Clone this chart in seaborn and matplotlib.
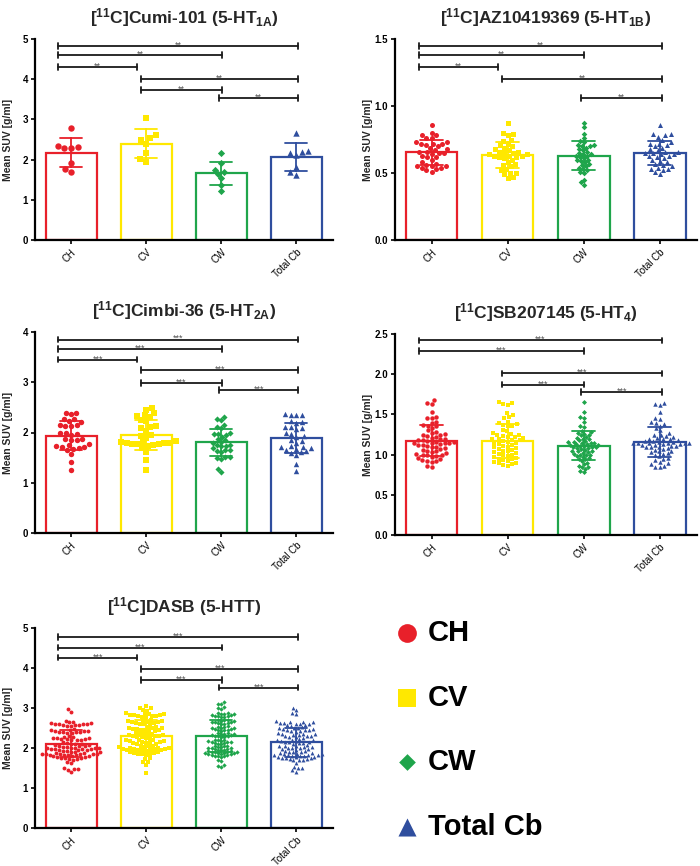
import warnings
warnings.filterwarnings("ignore")
import matplotlib
matplotlib.use("Agg")
import matplotlib.pyplot as plt
import pandas as pd
import seaborn as sns

# ---------------- data ----------------
categories = ["CH", "CV", "CW", "Total Cb"]
colors = ["#E8202A", "#FFE800", "#1FA54B", "#2F4E9E"]
markers = ["o", "s", "D", "^"]

titles = [r"[$^{11}$C]Cumi-101 (5-HT$_{1A}$)",
          r"[$^{11}$C]AZ10419369 (5-HT$_{1B}$)",
          r"[$^{11}$C]Cimbi-36 (5-HT$_{2A}$)",
          r"[$^{11}$C]SB207145 (5-HT$_{4}$)",
          r"[$^{11}$C]DASB (5-HTT)"]

cumi_ch = [2.79, 2.32, 2.28, 2.30, 2.35, 1.91, 1.76, 1.68]
cumi_cv = [3.03, 2.53, 2.61, 2.50, 2.40, 2.17, 1.95, 2.01]
cumi_cw = [2.16, 1.91, 1.74, 1.68, 1.64, 1.53, 1.37, 1.23]
cumi_tot = [2.67, 2.20, 2.16, 2.22, 2.11, 1.82, 1.70, 1.62]

az_ch = [0.86, 0.80, 0.78, 0.78, 0.76, 0.76, 0.73, 0.73, 0.72, 0.72, 0.72, 0.71,
         0.70, 0.69, 0.68, 0.67, 0.66, 0.66, 0.65, 0.65, 0.64, 0.63, 0.62, 0.62,
         0.60, 0.58, 0.57, 0.56, 0.55, 0.55, 0.55, 0.54, 0.54, 0.53, 0.52, 0.51]
az_cv = [0.87, 0.80, 0.79, 0.78, 0.75, 0.74, 0.72, 0.71, 0.70, 0.69, 0.68, 0.67,
         0.66, 0.66, 0.65, 0.65, 0.64, 0.64, 0.63, 0.63, 0.63, 0.62, 0.62, 0.61,
         0.60, 0.58, 0.57, 0.56, 0.55, 0.53, 0.52, 0.50, 0.50, 0.49, 0.47, 0.46]
az_cw = [0.87, 0.84, 0.79, 0.76, 0.74, 0.73, 0.71, 0.71, 0.70, 0.70, 0.69, 0.68,
         0.67, 0.66, 0.65, 0.64, 0.64, 0.63, 0.63, 0.62, 0.61, 0.60, 0.60, 0.59,
         0.58, 0.57, 0.56, 0.55, 0.54, 0.53, 0.52, 0.51, 0.50, 0.45, 0.43, 0.41]
az_tot = [0.86, 0.79, 0.79, 0.78, 0.77, 0.75, 0.73, 0.72, 0.72, 0.71, 0.70, 0.69,
          0.68, 0.67, 0.66, 0.66, 0.65, 0.65, 0.64, 0.64, 0.63, 0.63, 0.62, 0.61,
          0.60, 0.59, 0.58, 0.57, 0.56, 0.55, 0.54, 0.53, 0.53, 0.52, 0.51, 0.49]

cimbi_ch = [2.39, 2.39, 2.36, 2.27, 2.26, 2.22, 2.21, 2.15, 2.14, 2.13, 2.12, 2.00,
            1.99, 1.98, 1.96, 1.88, 1.87, 1.86, 1.85, 1.78, 1.75, 1.73, 1.72, 1.71,
            1.70, 1.68, 1.65, 1.58, 1.42, 1.26]
cimbi_cv = [2.48, 2.45, 2.38, 2.34, 2.32, 2.30, 2.24, 2.22, 2.12, 2.10, 2.09, 2.03,
            1.96, 1.94, 1.90, 1.83, 1.82, 1.81, 1.80, 1.80, 1.79, 1.78, 1.78, 1.77,
            1.76, 1.74, 1.70, 1.62, 1.45, 1.26]
cimbi_cw = [2.30, 2.26, 2.24, 2.15, 2.10, 2.08, 2.00, 1.98, 1.97, 1.95, 1.92, 1.88,
            1.86, 1.82, 1.80, 1.76, 1.75, 1.74, 1.73, 1.70, 1.66, 1.65, 1.64, 1.62,
            1.52, 1.51, 1.50, 1.48, 1.28, 1.21]
cimbi_tot = [2.36, 2.35, 2.35, 2.34, 2.23, 2.21, 2.19, 2.11, 2.10, 2.08, 2.06, 1.99,
             1.97, 1.93, 1.92, 1.86, 1.83, 1.80, 1.73, 1.72, 1.71, 1.70, 1.67, 1.66,
             1.63, 1.62, 1.60, 1.55, 1.38, 1.24]

sb_ch = [1.68, 1.64, 1.63, 1.53, 1.47, 1.46, 1.45, 1.41, 1.39, 1.37,
         1.36, 1.35, 1.33, 1.30, 1.27, 1.25, 1.24, 1.23, 1.22, 1.21,
         1.20, 1.19, 1.18, 1.18, 1.17, 1.16, 1.16, 1.15, 1.15, 1.14,
         1.14, 1.13, 1.12, 1.11, 1.10, 1.09, 1.08, 1.06, 1.04, 1.02,
         1.01, 1.00, 1.00, 0.99, 0.98, 0.97, 0.96, 0.95, 0.93, 0.92,
         0.92, 0.91, 1.03, 1.05, 1.07, 0.86, 0.84, 1.26, 1.28, 1.12]
sb_cv = [1.65, 1.64, 1.63, 1.62, 1.52, 1.49, 1.47, 1.45, 1.41, 1.39,
         1.38, 1.37, 1.36, 1.35, 1.31, 1.29, 1.27, 1.26, 1.25, 1.24,
         1.23, 1.22, 1.21, 1.20, 1.19, 1.18, 1.17, 1.16, 1.15, 1.14,
         1.13, 1.12, 1.11, 1.10, 1.09, 1.08, 1.07, 1.06, 1.05, 1.04,
         1.03, 1.02, 1.01, 1.00, 0.99, 0.98, 0.97, 0.96, 0.95, 0.94,
         0.93, 0.92, 0.91, 0.90, 0.89, 0.88, 0.87, 0.86, 1.18, 1.22]
sb_cw = [1.65, 1.53, 1.47, 1.45, 1.40, 1.36, 1.34, 1.29, 1.28, 1.27,
         1.26, 1.25, 1.24, 1.22, 1.20, 1.18, 1.17, 1.16, 1.15, 1.14,
         1.14, 1.13, 1.12, 1.11, 1.10, 1.09, 1.08, 1.07, 1.06, 1.05,
         1.04, 1.03, 1.02, 1.01, 1.00, 0.99, 0.98, 0.97, 0.96, 0.95,
         0.94, 1.19, 0.92, 1.11, 0.90, 1.09, 0.88, 1.13, 0.86, 0.85,
         0.84, 0.82, 0.80, 0.78, 1.16, 1.12, 1.08, 1.04, 1.00, 1.21]
sb_tot = [1.64, 1.63, 1.62, 1.53, 1.46, 1.44, 1.40, 1.39, 1.38, 1.36,
          1.33, 1.30, 1.27, 1.25, 1.23, 1.21, 1.19, 1.18, 1.17, 1.16,
          1.16, 1.15, 1.15, 1.14, 1.14, 1.13, 1.12, 1.11, 1.10, 1.09,
          1.08, 1.07, 1.06, 1.05, 1.04, 1.03, 1.02, 1.01, 1.00, 1.14,
          0.98, 1.19, 0.96, 0.95, 1.12, 0.93, 1.15, 0.91, 1.22, 0.89,
          0.88, 0.86, 0.85, 0.84, 1.20, 1.17, 1.13, 1.11, 1.09, 1.24]

dasb_ch = [2.97, 2.90, 2.68, 2.66,
           2.64, 2.63, 2.62, 2.61, 2.60, 2.60, 2.59, 2.58, 2.58, 2.57, 2.56, 2.55,
           2.47, 2.45, 2.44, 2.43, 2.42, 2.42, 2.41, 2.40, 2.40, 2.39, 2.38, 2.37,
           2.30, 2.28, 2.27, 2.26, 2.25, 2.24, 2.23, 2.22, 2.22, 2.21, 2.20, 2.19,
           2.14, 2.12, 2.11, 2.10, 2.09, 2.08, 2.07, 2.06, 2.05, 2.04, 2.03, 2.02,
           2.01, 2.00, 2.00, 1.99, 1.98, 1.97,
           1.99, 1.98, 1.97, 1.96, 1.95, 1.94, 1.93, 1.92, 1.91, 1.90, 1.89, 1.88,
           1.87, 1.86, 1.86, 1.85, 1.85, 1.84, 1.83, 1.83, 1.82, 1.81,
           1.84, 1.82, 1.80, 1.79, 1.78, 1.77, 1.76, 1.75, 1.74, 1.73, 1.72, 1.70,
           1.65, 1.62, 1.49, 1.48, 1.47, 1.46, 1.40]
dasb_cv = [3.05, 3.01, 2.99, 2.96, 2.93,
           2.87, 2.86, 2.85, 2.84, 2.83, 2.82, 2.82, 2.81, 2.80, 2.79, 2.78, 2.77,
           2.70, 2.69, 2.68, 2.67, 2.66, 2.65, 2.64, 2.63, 2.62, 2.61, 2.60, 2.59,
           2.53, 2.52, 2.51, 2.50, 2.49, 2.48, 2.47, 2.46, 2.45, 2.44, 2.43, 2.42,
           2.38, 2.37, 2.36, 2.35, 2.34, 2.33, 2.32, 2.31, 2.30, 2.29, 2.28, 2.27, 2.26, 2.25,
           2.21, 2.20, 2.19, 2.18, 2.17, 2.16, 2.15, 2.14, 2.13, 2.12, 2.11, 2.10,
           2.06, 2.05, 2.04, 2.03, 2.02, 2.01, 2.00, 1.99, 1.98, 1.97, 1.96, 1.95,
           1.98, 1.97, 1.96, 1.95, 1.94, 1.93,
           1.90, 1.89, 1.88, 1.87, 1.86, 1.85, 1.84, 1.83,
           1.75, 1.72, 1.66, 1.64, 1.58, 1.38]
dasb_cw = [3.14, 3.11, 3.09, 3.02, 2.99, 2.97,
           2.88, 2.87, 2.86, 2.85, 2.84, 2.83, 2.82, 2.81, 2.80, 2.79, 2.78, 2.77,
           2.71, 2.70, 2.69, 2.68, 2.67, 2.66, 2.65, 2.64, 2.63, 2.62, 2.61, 2.60,
           2.54, 2.53, 2.52, 2.51, 2.50, 2.49, 2.48, 2.47, 2.46, 2.45, 2.44, 2.43,
           2.38, 2.37, 2.36, 2.35, 2.34, 2.33, 2.32, 2.31, 2.30, 2.29, 2.28, 2.27,
           2.21, 2.20, 2.19, 2.18, 2.17, 2.16, 2.15, 2.14, 2.13, 2.12, 2.11, 2.10,
           2.06, 2.05, 2.04, 2.03, 2.02, 2.01, 2.00, 1.99, 1.98, 1.97, 1.96, 1.95,
           1.94, 1.93, 1.92, 1.91, 1.90, 1.89, 1.88, 1.87,
           1.89, 1.88, 1.87, 1.86, 1.85, 1.84, 1.83, 1.82, 1.81, 1.80, 1.79, 1.78,
           1.70, 1.67, 1.58, 1.55, 1.53]
dasb_tot = [3.00, 2.95, 2.88, 2.84,
            2.67, 2.66, 2.65, 2.64, 2.63, 2.62, 2.61, 2.60, 2.59, 2.58, 2.57, 2.56,
            2.52, 2.51, 2.50, 2.49, 2.48, 2.47, 2.46, 2.45, 2.44, 2.43, 2.42, 2.41,
            2.37, 2.36, 2.35, 2.34, 2.33, 2.32, 2.31, 2.30, 2.29, 2.28, 2.27, 2.26,
            2.22, 2.21, 2.20, 2.19, 2.18, 2.17, 2.16, 2.15, 2.14, 2.13, 2.12, 2.11,
            2.07, 2.06, 2.05, 2.04, 2.03, 2.02, 2.01, 2.00, 1.99, 1.98, 1.97, 1.96,
            1.93, 1.92, 1.91, 1.90, 1.89, 1.88, 1.87, 1.86, 1.85, 1.84, 1.83, 1.82,
            1.83, 1.82, 1.81, 1.80, 1.79, 1.78,
            1.78, 1.77, 1.76, 1.75, 1.74, 1.73, 1.72, 1.71, 1.70, 1.69,
            1.62, 1.53, 1.51, 1.50, 1.44, 1.41]

# significance brackets: (group i, group j, height)
cumi_brackets = [(0, 3, 4.83), (0, 2, 4.60), (0, 1, 4.30), (1, 3, 4.00), (1, 2, 3.73), (2, 3, 3.54)]
az_brackets = [(0, 3, 1.448), (0, 2, 1.38), (0, 1, 1.29), (1, 3, 1.20), (2, 3, 1.06)]
cimbi_brackets = [(0, 3, 3.85), (0, 2, 3.66), (0, 1, 3.45), (1, 3, 3.24), (1, 2, 2.99), (2, 3, 2.84)]
sb_brackets = [(0, 3, 2.42), (0, 2, 2.29), (1, 3, 2.01), (1, 2, 1.87), (2, 3, 1.78)]
dasb_brackets = [(0, 3, 4.78), (0, 2, 4.51), (0, 1, 4.26), (1, 3, 3.97), (1, 2, 3.70), (2, 3, 3.51)]

y_max = [5, 1.5, 4, 2.5, 5]
y_step = [1, 0.5, 1, 0.5, 1]
y_fmt = ["{:.0f}", "{:.1f}", "{:.0f}", "{:.1f}", "{:.0f}"]
stars = ["**", "**", "***", "***", "***"]

panel_data = [[cumi_ch, cumi_cv, cumi_cw, cumi_tot],
              [az_ch, az_cv, az_cw, az_tot],
              [cimbi_ch, cimbi_cv, cimbi_cw, cimbi_tot],
              [sb_ch, sb_cv, sb_cw, sb_tot],
              [dasb_ch, dasb_cv, dasb_cw, dasb_tot]]
panel_brackets = [cumi_brackets, az_brackets, cimbi_brackets, sb_brackets, dasb_brackets]

# ---------------- style ----------------
sns.set_theme(style="ticks")
plt.rcParams["font.family"] = ["Liberation Sans", "DejaVu Sans"]
plt.rcParams["mathtext.fontset"] = "custom"
plt.rcParams["mathtext.rm"] = "Liberation Sans:bold"
plt.rcParams["mathtext.it"] = "Liberation Sans:bold"
plt.rcParams["mathtext.bf"] = "Liberation Sans:bold"
plt.rcParams["mathtext.sf"] = "Liberation Sans:bold"

W, H = 700, 866
fig = plt.figure(figsize=(W / 100, H / 100), dpi=100)
fig.patch.set_facecolor("white")

# layout in pixels: (left, right, top, bottom)
boxes = [(35, 333, 39, 240), (395, 697, 39, 240),
         (35, 333, 332, 533), (395, 697, 334, 535),
         (35, 333, 628, 828)]
point_size = [4.6, 3.6, 3.9, 3.2, 2.8]
start_off = [-0.17, -0.07, -0.03]
end_off = [0.0, -0.12, 0.01, 0.03]

palette = dict(zip(categories, colors))

for p in range(5):
    l, r, t, b = boxes[p]
    ax = fig.add_axes([l / W, 1 - b / H, (r - l) / W, (b - t) / H])
    groups = panel_data[p]
    df = pd.DataFrame({
        "group": [c for c, vals in zip(categories, groups) for _ in vals],
        "value": [v for vals in groups for v in vals],
    })
    sns.barplot(data=df, x="group", y="value", order=categories, hue="group",
                hue_order=categories, palette=palette, fill=False, errorbar="sd",
                capsize=0.3, width=0.68, linewidth=1.6, legend=False,
                err_kws={"linewidth": 1.3, "zorder": 4}, ax=ax)
    for i, vals in enumerate(groups):
        sz = point_size[p] * (0.8 if markers[i] == "D" else 1.0)
        sns.swarmplot(x=[categories[i]] * len(vals), y=vals, order=categories,
                      color=colors[i], marker=markers[i], size=sz, linewidth=0,
                      ax=ax, zorder=3)
    ymax = y_max[p]
    ax.set_xlim(-0.48, 3.49)
    ax.set_ylim(0, ymax)
    ticks = [k * y_step[p] for k in range(int(round(ymax / y_step[p])) + 1)]
    ax.set_yticks(ticks)
    ax.set_yticklabels([y_fmt[p].format(tk) for tk in ticks], fontsize=7, fontweight="bold")
    ax.set_xticks(range(4))
    ax.set_xticklabels(categories, rotation=45, ha="right", rotation_mode="anchor",
                       fontsize=7)
    ax.set_xlabel("")
    ax.set_ylabel("Mean SUV [g/ml]", fontsize=7.5, fontweight="bold")
    ax.yaxis.set_label_coords(-0.074, 0.5)
    ax.set_title(titles[p], fontsize=12.5, fontweight="bold", pad=11)
    sns.despine(ax=ax)
    for s in ["left", "bottom"]:
        ax.spines[s].set_linewidth(1.6)
        ax.spines[s].set_color("black")
    ax.tick_params(axis="both", length=3, width=1.2, pad=2, colors="black")
    ax.set_facecolor("white")
    # significance brackets
    d = ymax * 0.014
    for (i, j, yb) in panel_brackets[p]:
        x1 = i + start_off[i]
        x2 = j + end_off[j]
        ax.plot([x1, x2], [yb, yb], color="#1a1a1a", lw=1.3, zorder=5)
        ax.plot([x1, x1], [yb - d, yb + d], color="#1a1a1a", lw=1.3, zorder=5)
        ax.plot([x2, x2], [yb - d, yb + d], color="#1a1a1a", lw=1.3, zorder=5)
        ax.text((x1 + x2) / 2, yb + ymax * 0.004, stars[p], ha="center", va="center",
                fontsize=6.5, color="#505050", zorder=6)

# legend panel
lax = fig.add_axes([380 / W, 1 - 859.4 / H, 300 / W, 258.8 / H])
lax.set_xlim(0, 300)
lax.set_ylim(3.5, -0.5)
lax.axis("off")
leg_sizes = [13.5, 12.5, 8.5, 13.0]
for i, c in enumerate(categories):
    lax.scatter([27], [i], marker=markers[i], s=leg_sizes[i] ** 2, color=colors[i],
                linewidths=0)
    lax.text(48, i, c, fontsize=21, fontweight="bold", va="center", ha="left",
             color="black")

fig.savefig("out.png", dpi=100, facecolor="white")
